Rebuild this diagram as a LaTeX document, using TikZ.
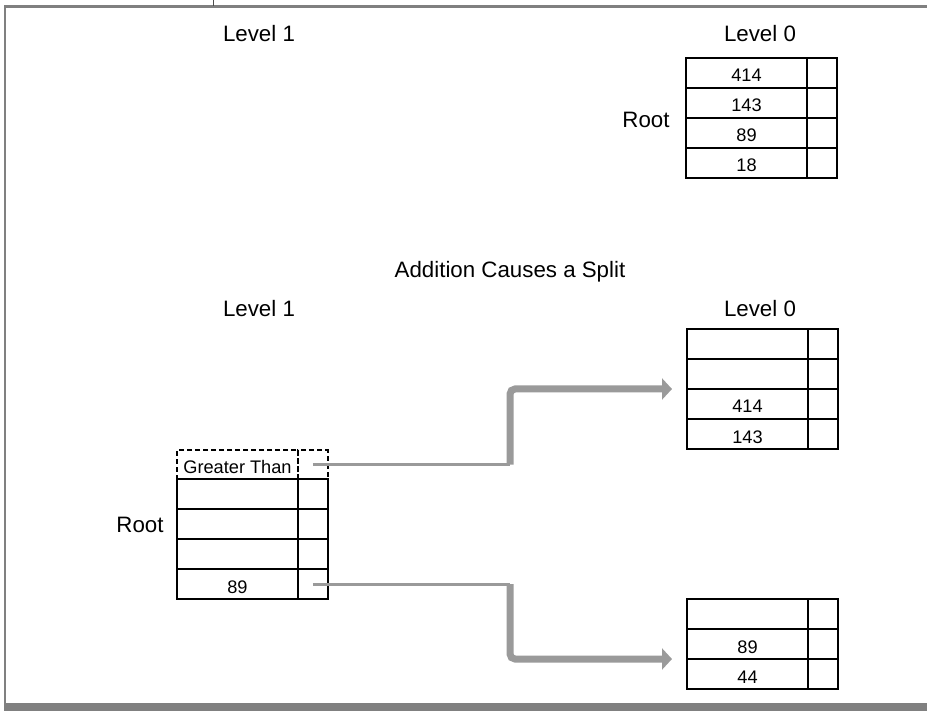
\documentclass[tikz,border=0pt]{standalone}
\usepackage{fontspec}
\setmainfont{Liberation Sans}
\usepackage{tikz}
\usetikzlibrary{positioning}
\usetikzlibrary{arrows.meta}
\usepackage[dvipsnames]{xcolor}

\definecolor{framegray}{HTML}{808080}
\definecolor{linkgray}{HTML}{9A9A9A}

\tikzset{
  cell/.style={draw=black, line width=2pt, inner sep=0pt, outer sep=0pt,
    minimum height=30pt, anchor=north west, text height=18pt, text depth=0pt,
    font=\fontsize{18.2}{20}\selectfont},
  keycell/.style={cell, minimum width=121pt},
  ptrcell/.style={cell, minimum width=29.5pt},
  gtcell/.style={dashed, dash pattern=on 5pt off 3pt, minimum height=29pt},
  lbl/.style={inner sep=0pt, anchor=base, font=\fontsize{22.3}{26}\selectfont},
  thinlink/.style={draw=linkgray, line width=3pt},
  thicklink/.style={draw=linkgray, line width=7pt, rounded corners=5pt,
    shorten >=15pt, -{Triangle[length=10pt,width=21pt]}}
}

\begin{document}
\begin{tikzpicture}[x=1pt, y=-1pt]
    \useasboundingbox (0,0) rectangle (927,711);

    % frame
    \draw[framegray, line width=2.5pt] (4,6.7) -- (927,6.7);
    \draw[framegray, line width=2.5pt] (5.2,6) -- (5.2,704);
    \fill[framegray] (4,703.3) rectangle (927,711);
    \draw[black!70, line width=1pt] (213,0) -- (213,6);

    % before the split
    \node[lbl] (lvlonetop) at (259,42) {Level 1};
    \node[lbl] (lvlzerotop) at (760,42) {Level 0};
    \node[lbl] (roottop) at (646,128) {Root};
    \foreach \k [count=\i] in {414,143,89,18}{
      \node[keycell] (top\i) at (686,28+30*\i) {\k};
      \node[ptrcell, right=0pt of top\i] (topp\i) {};
    }

    % after the split
    \node[lbl] (split) at (510,278) {Addition Causes a Split};
    \node[lbl] (lvlonebot) at (259,317) {Level 1};
    \node[lbl] (lvlzerobot) at (760,317) {Level 0};
    \node[lbl] (rootbot) at (140,532) {Root};

    \node[keycell, gtcell] (gt) at (177,450) {Greater Than};
    \node[ptrcell, gtcell, right=0pt of gt] (gtp) {};
    \foreach \k [count=\i] in {{},{},{},89}{
      \node[keycell] (left\i) at (177,449+30*\i) {\k};
      \node[ptrcell, right=0pt of left\i] (leftp\i) {};
    }
    \foreach \k [count=\i] in {{},{},414,143}{
      \node[keycell] (up\i) at (687,299+30*\i) {\k};
      \node[ptrcell, right=0pt of up\i] (upp\i) {};
    }
    \foreach \k [count=\i] in {{},89,44}{
      \node[keycell] (lo\i) at (687,569+30*\i) {\k};
      \node[ptrcell, right=0pt of lo\i] (lop\i) {};
    }

    % links
    \coordinate (midx) at (510,0);
    \draw[thinlink] (gtp.center) -- (gtp.center -| midx);
    \draw[thicklink] (gtp.center -| midx) |- (up3.north west);
    \draw[thinlink] (leftp4.center) -- (leftp4.center -| midx);
    \draw[thicklink] (leftp4.center -| midx) |- (lo3.north west);

  \end{tikzpicture}
\end{document}
